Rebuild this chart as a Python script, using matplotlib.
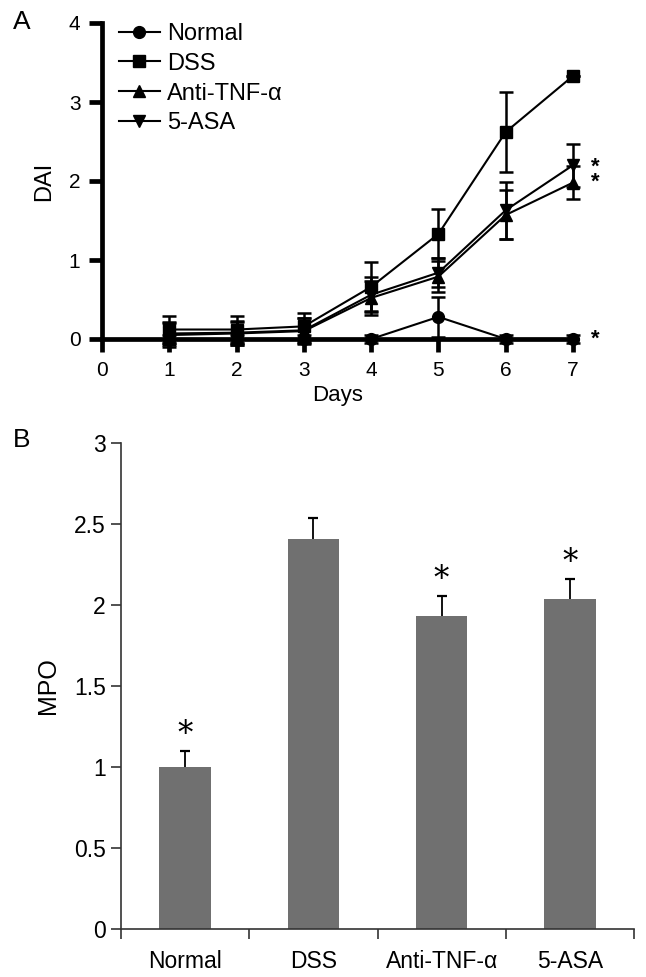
import matplotlib
matplotlib.use("Agg")
import matplotlib.pyplot as plt
import numpy as np

plt.rcParams['font.family'] = ['Liberation Sans', 'DejaVu Sans']

# ---- Panel A data (DAI over days) ----
days = [1, 2, 3, 4, 5, 6, 7]
normal_dai = [0.0, 0.0, 0.0, 0.0, 0.28, 0.0, 0.0]
normal_err = [0.05, 0.05, 0.05, 0.05, 0.25, 0.05, 0.05]
dss_dai = [0.12, 0.12, 0.16, 0.66, 1.33, 2.62, 3.33]
dss_err = [0.17, 0.17, 0.17, 0.31, 0.31, 0.51, 0.0]
anti_dai = [0.05, 0.07, 0.10, 0.52, 0.79, 1.57, 1.98]
anti_err = [0.15, 0.15, 0.16, 0.22, 0.20, 0.31, 0.21]
asa_dai = [0.07, 0.08, 0.11, 0.56, 0.84, 1.63, 2.20]
asa_err = [0.15, 0.15, 0.15, 0.22, 0.18, 0.36, 0.27]
series_labels = ['Normal', 'DSS', 'Anti-TNF-\u03b1', '5-ASA']
series_markers = ['o', 's', '^', 'v']
stars_pair_y = 2.085   # centre of the two stacked stars (5-ASA, Anti-TNF-α)
star_normal_y = 0.0

# ---- Panel B data (MPO) ----
groups = ['Normal', 'DSS', 'Anti-TNF-\u03b1', '5-ASA']
mpo = [1.00, 2.41, 1.93, 2.035]
mpo_err = [0.10, 0.125, 0.125, 0.127]
mpo_star = [True, False, True, True]

fig = plt.figure(figsize=(6.46, 9.77), dpi=100)

# ---------------- Panel A ----------------
axA = fig.add_axes([102/646, 1-339/977, 471/646, 316/977])
all_y = [normal_dai, dss_dai, anti_dai, asa_dai]
all_e = [normal_err, dss_err, anti_err, asa_err]
for yv, ev, lab, mk in zip(all_y, all_e, series_labels, series_markers):
    h = axA.errorbar(days, yv, yerr=ev, color='black', marker=mk, markersize=8.5,
                     lw=1.5, elinewidth=1.8, capsize=5, capthick=1.8,
                     label=lab, clip_on=False, zorder=3)
    for art in h.get_children():
        art.set_clip_on(False)

axA.set_xlim(0, 7)
axA.set_ylim(0, 4)
axA.set_xticks(range(0, 8))
axA.set_yticks(range(0, 5))
for s in ['top', 'right']:
    axA.spines[s].set_visible(False)
for s in ['left', 'bottom']:
    axA.spines[s].set_linewidth(3.4)
axA.tick_params(axis='both', direction='out', length=9.5, width=3.4,
                labelsize=15, pad=6)
axA.set_ylabel('DAI', fontsize=17, labelpad=10)
axA.set_xlabel('Days', fontsize=16, labelpad=4)
axA.text(7.33, stars_pair_y, '*\n*', fontsize=16, ha='center', va='center',
         fontweight='bold', linespacing=0.62, clip_on=False)
axA.text(7.33, star_normal_y, '*', fontsize=16, ha='center', va='center',
         fontweight='bold', clip_on=False)

axA.legend(handles=[plt.Line2D([], [], color='black', marker=m, markersize=8.5, lw=1.5)
                    for m in series_markers],
           labels=series_labels, loc='upper left', bbox_to_anchor=(0.005, 1.045),
           frameon=False, fontsize=17, handlelength=1.75, handletextpad=0.3,
           labelspacing=0.33, borderaxespad=0.2)

fig.text(13/646, 1-22/977, 'A', fontsize=19, ha='left', va='center')

# ---------------- Panel B ----------------
axB = fig.add_axes([121/646, 1-929/977, 513/646, 486/977])
xpos = np.arange(len(groups)) + 0.5
axB.bar(xpos, mpo, width=0.40, color='#707070', edgecolor='none', zorder=2)
eb = axB.errorbar(xpos, mpo, yerr=[np.zeros(len(mpo)), mpo_err], fmt='none',
                  ecolor='black', elinewidth=1.3, capsize=3.5, capthick=1.6, zorder=3)
# hide the lower caps (sitting on the bar tops)
caps = eb[1]
if len(caps) >= 2:
    caps[0].set_visible(False)
for x, v, e, s in zip(xpos, mpo, mpo_err, mpo_star):
    if s:
        axB.text(x, v + e + 0.1, '*', fontsize=22, ha='center', va='center',
                 family='DejaVu Serif')

axB.set_xlim(0, 4)
axB.set_ylim(0, 3)
axB.set_yticks([0, 0.5, 1, 1.5, 2, 2.5, 3])
axB.set_yticklabels(['0', '0.5', '1', '1.5', '2', '2.5', '3'])
axB.set_xticks([0, 1, 2, 3, 4])
axB.set_xticklabels([])
axB.set_xticks(xpos, minor=True)
axB.set_xticklabels(groups, minor=True)
axB.tick_params(axis='x', which='minor', length=0, labelsize=16.5, pad=15)
axB.tick_params(axis='x', which='major', direction='out', length=7, width=1.2, color='#333333')
axB.tick_params(axis='y', direction='out', length=7, width=1.2, color='#333333',
                labelsize=16.5, pad=4)
for s in ['top', 'right']:
    axB.spines[s].set_visible(False)
for s in ['left', 'bottom']:
    axB.spines[s].set_linewidth(1.2)
    axB.spines[s].set_color('#333333')
axB.set_ylabel('MPO', fontsize=18, labelpad=10)

fig.text(13/646, 1-440/977, 'B', fontsize=19, ha='left', va='center')

fig.savefig('out.png', dpi=100)
